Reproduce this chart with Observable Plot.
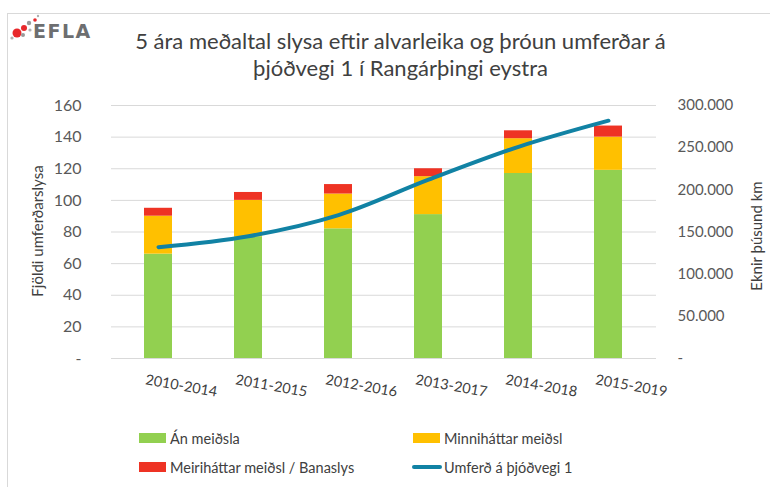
<!DOCTYPE html>
<html><head><meta charset="utf-8">
<script src="https://cdn.jsdelivr.net/npm/d3@7"></script>
<script src="https://cdn.jsdelivr.net/npm/@observablehq/plot@0.6"></script>
<style>
body{margin:0;background:#fff;font-family:Lato,"Open Sans",sans-serif;}
#wrap{position:relative;width:770px;height:487px;overflow:hidden;background:#fff}
#border{position:absolute;left:7px;top:13px;width:800px;height:600px;border:1px solid #d9d9d9;box-sizing:border-box}
#title{position:absolute;left:0;top:27px;width:801px;text-align:center;font-size:22px;line-height:27px;color:#404040}
#chart{position:absolute;left:0;top:90px}
.ylab{position:absolute;font-size:15px;color:#404040;white-space:nowrap;transform:translate(-50%,-50%) rotate(-90deg)}
.leg{position:absolute;font-size:14.5px;color:#404040;white-space:nowrap;display:flex;align-items:center}
.sw{display:inline-block;width:27px;height:10px;margin-right:4px}
.ln{display:inline-block;width:30px;height:4px;margin-right:2px;border-radius:2px}
#logo{position:absolute;left:8px;top:14px}
</style></head><body>
<div id="wrap">
  <div id="border"></div>
  <svg id="logo" width="100" height="30" viewBox="0 0 100 30">
    <circle cx="9" cy="19" r="4.5" fill="#e8282b"/>
    <circle cx="16" cy="14" r="3" fill="#e8282b"/>
    <circle cx="21" cy="9" r="2.2" fill="#9a9a9a"/>
    <circle cx="27" cy="6" r="1.8" fill="#e8282b"/>
    <circle cx="15" cy="21" r="2" fill="#9a9a9a"/>
    <circle cx="4" cy="24" r="1.6" fill="#b0b0b0"/>
    <circle cx="22" cy="16" r="1.6" fill="#b0b0b0"/>
    <circle cx="30" cy="2" r="1.2" fill="#b0b0b0"/>
    <text x="25" y="24" font-family="DejaVu Sans, sans-serif" font-weight="bold" font-size="19" fill="#6d6e70" letter-spacing="1.5">EFLA</text>
  </svg>
  <div id="title"></div>
  <div id="chart"></div>
  <div class="ylab" id="ylabL" style="left:37px;top:231px"></div>
  <div class="ylab" id="ylabR" style="left:756px;top:236px"></div>
  <div id="legend"></div>
</div>
<script>
const titleLines = ["5 ára meðaltal slysa eftir alvarleika og þróun umferðar á", "þjóðvegi 1 í Rangárþingi eystra"];
const periods = ["2010-2014","2011-2015","2012-2016","2013-2017","2014-2018","2015-2019"];
const anMeidsla = [66, 77, 82, 91, 117, 119];
const minnihattar = [24, 23, 22, 24, 22, 21];
const meirihattar = [5, 5, 6, 5, 5, 7];
const umferd = [132000, 145000, 170000, 212000, 251000, 282000];
const leftTicks = [0, 20, 40, 60, 80, 100, 120, 140, 160];
const rightTicks = [0, 50000, 100000, 150000, 200000, 250000, 300000];
const seriesNames = ["Án meiðsla", "Minniháttar meiðsl", "Meiriháttar meiðsl / Banaslys", "Umferð á þjóðvegi 1"];
const seriesColors = ["#92d050", "#ffc000", "#ee3324", "#1182a4"];
const leftLabel = "Fjöldi umferðarslysa";
const rightLabel = "Eknir þúsund km";

document.getElementById("title").innerHTML = titleLines.join("<br>");
document.getElementById("ylabL").textContent = leftLabel;
document.getElementById("ylabR").textContent = rightLabel;

const barData = [];
periods.forEach((p, i) => {
  barData.push({period: p, type: seriesNames[0], value: anMeidsla[i]});
  barData.push({period: p, type: seriesNames[1], value: minnihattar[i]});
  barData.push({period: p, type: seriesNames[2], value: meirihattar[i]});
});
const lineData = periods.map((p, i) => ({period: p, value: umferd[i]}));
const k = 160 / 300000;
const loc = d3.formatLocale({decimal: ",", thousands: ".", grouping: [3], currency: ["", ""]});
const fmt = loc.format(",");

const chart = Plot.plot({
  width: 770, height: 320,
  marginTop: 15, marginBottom: 52, marginLeft: 111, marginRight: 114,
  style: {fontFamily: "Lato, 'Open Sans', sans-serif", fontSize: "15px", color: "#595959", background: "transparent"},
  x: {domain: periods, paddingInner: 0.684, paddingOuter: 0.342, axis: null},
  y: {domain: [0, 160], axis: null},
  color: {domain: seriesNames.slice(0, 3), range: seriesColors.slice(0, 3)},
  marks: [
    Plot.gridY(leftTicks, {stroke: "#d9d9d9", strokeOpacity: 1, strokeWidth: 1}),
    Plot.barY(barData, {x: "period", y: "value", fill: "type", order: null}),
    Plot.line(lineData, {x: "period", y: d => d.value * k, stroke: seriesColors[3], strokeWidth: 4, curve: "catmull-rom"}),
    Plot.axisY(leftTicks, {anchor: "left", tickSize: 0, tickPadding: 30, label: null, fontSize: 16, fill: "#595959",
      tickFormat: d => d === 0 ? "-" : String(d)}),
    Plot.axisY(rightTicks.map(v => v * k), {anchor: "right", tickSize: 0, tickPadding: 21, label: null, fontSize: 15, fill: "#595959", textAnchor: "start",
      tickFormat: d => { const v = Math.round(d / k); return v === 0 ? "-" : fmt(v); }}),
    Plot.text(periods, {x: d => d, frameAnchor: "bottom", dy: 32, dx: 22, rotate: 10, fontSize: 14.5, fill: "#404040", text: d => d})
  ]
});
document.getElementById("chart").appendChild(chart);

const legend = document.getElementById("legend");
const legItems = [
  {name: seriesNames[0], color: seriesColors[0], x: 139, y: 438, line: false},
  {name: seriesNames[1], color: seriesColors[1], x: 413, y: 438, line: false},
  {name: seriesNames[2], color: seriesColors[2], x: 139, y: 467, line: false},
  {name: seriesNames[3], color: seriesColors[3], x: 412, y: 467, line: true}
];
legItems.forEach(it => {
  const d = document.createElement("div");
  d.className = "leg";
  d.style.left = it.x + "px";
  d.style.top = (it.y - 11) + "px";
  d.style.height = "22px";
  const s = document.createElement("span");
  s.className = it.line ? "ln" : "sw";
  s.style.background = it.color;
  d.appendChild(s);
  d.appendChild(document.createTextNode(it.name));
  legend.appendChild(d);
});
</script>
</body></html>
